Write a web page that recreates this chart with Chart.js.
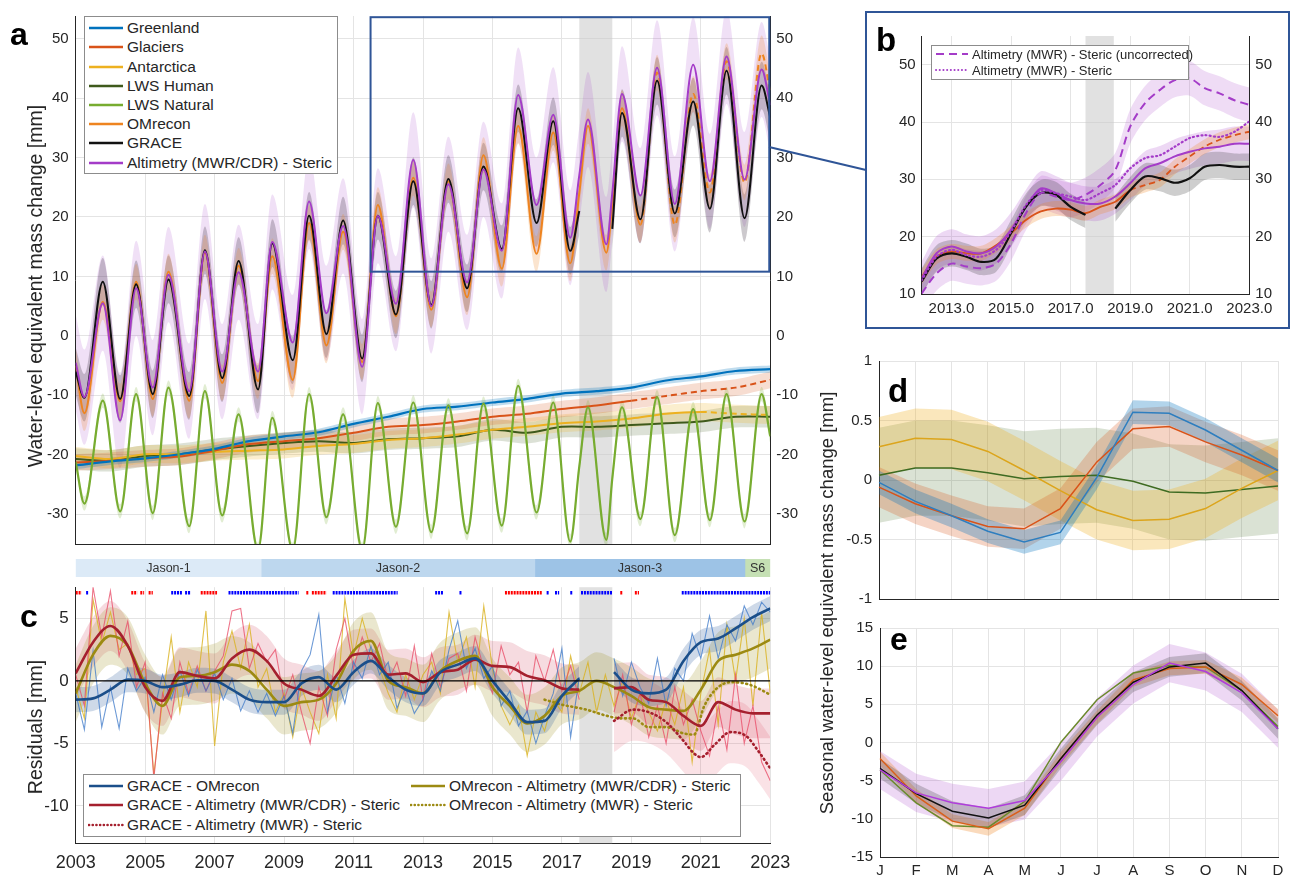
<!DOCTYPE html>
<html>
<head>
<meta charset="utf-8">
<title>Water-level equivalent mass change</title>
<script src="https://cdn.jsdelivr.net/npm/chart.js@4.4.1/dist/chart.umd.min.js"></script>
<style>
  body { margin: 0; background: #fff; font-family: "Liberation Sans", Arial, sans-serif; color: #262626; }
  #page { position: relative; width: 1290px; height: 876px; overflow: hidden; }
  canvas, .abs { position: absolute; }
  .letter { position: absolute; font-weight: bold; line-height: 1; color: #000; }
  .ytitle { position: absolute; white-space: nowrap; text-align: center; transform: rotate(-90deg); line-height: 1; height: 22px; }
  .legend { position: absolute; background: #fff; border: 1px solid #8c8c8c; box-sizing: border-box; }
  .lrow { position: absolute; display: flex; align-items: center; white-space: nowrap; color: #262626; }
</style>
</head>
<body>
<div id="page">
  <canvas id="chartA" width="820" height="560" style="left:0;top:0"></canvas>
  <canvas id="missions" width="820" height="20" style="left:0;top:557px"></canvas>
  <canvas id="chartC" width="820" height="306" style="left:0;top:570px"></canvas>
  <div class="abs" style="box-sizing:border-box;left:865px;top:11px;width:425px;height:318px;border:2px solid #2f5597"></div>
  <canvas id="chartB" width="424" height="326" style="left:864px;top:2px"></canvas>
  <canvas id="chartD" width="490" height="270" style="left:800px;top:345px"></canvas>
  <canvas id="chartE" width="490" height="264" style="left:800px;top:612px"></canvas>
  <svg class="abs" width="1290" height="876" style="left:0;top:0;pointer-events:none">
    <line x1="769" y1="147" x2="866" y2="170" stroke="#2f5597" stroke-width="2"/>
  </svg>

  <div id="legendA" class="legend" style="left:84px;top:16px;width:254px;height:158px"></div>
  <div id="legendB" class="legend" style="left:931px;top:45px;width:258px;height:35px"></div>
  <div id="legendC" class="legend" style="left:83px;top:774px;width:658px;height:63px"></div>

  <div class="letter" style="left:10px;top:18px;font-size:32px">a</div>
  <div class="letter" style="left:876px;top:23px;font-size:33px">b</div>
  <div class="letter" style="left:20px;top:600px;font-size:32px">c</div>
  <div class="letter" style="left:888px;top:374px;font-size:33px">d</div>
  <div class="letter" style="left:890px;top:623px;font-size:32px">e</div>

  <div class="ytitle" style="left:-173px;top:275px;width:420px;font-size:19.5px">Water-level equivalent mass change [mm]</div>
  <div class="ytitle" style="left:-173px;top:716px;width:420px;font-size:19.5px">Residuals [mm]</div>
  <div class="ytitle" style="left:569px;top:592px;width:520px;font-size:18.5px">Seasonal water-level equivalent mass change [mm]</div>
</div>

<script>
// ---------------- data: panel a (seasonal series, peak / trough times) ----------------
const aTime = [2003.0, 2003.25, 2003.78, 2004.28, 2004.74, 2005.22, 2005.67, 2006.27, 2006.72, 2007.22,
  2007.69, 2008.25, 2008.66, 2009.25, 2009.72, 2010.22, 2010.7, 2011.25, 2011.7, 2012.22,
  2012.72, 2013.24, 2013.73, 2014.27, 2014.74, 2015.27, 2015.74, 2016.27, 2016.75, 2017.24,
  2017.5, 2017.75, 2018.28, 2018.45, 2018.73, 2019.26, 2019.74, 2020.25, 2020.78, 2021.26,
  2021.74, 2022.26, 2022.75, 2023.0]
const aGrace = [-6, -10.4, 9.1, -10.6, 8.7, -9.8, 9.5, -10.1, 14.4, -7.1,
  12.6, -9, 15.6, -4.1, 20.2, 0.3, 19.4, -3.8, 20.2, 3.6,
  26, 5.2, 26.4, 8, 28.5, 14.6, 38.3, 19, 36.1, 14.3,
  21, null, null, 18, 37.5, 19.6, 42.9, 20.6, 39.4, 21.4,
  44.6, 19.8, 42.1, 36.7]
const aOMrecon = [-5, -13, 5.7, -11, 9.1, -10.6, 10.8, -10.9, 14, -7.9,
  11.8, -7.6, 13.4, -7.4, 19, -1.6, 17.5, -4.4, 22, 3.3,
  26.6, 4.4, 26, 6.5, 30.4, 11.3, 35.3, 13.8, 34.2, 12.2,
  24, 35.3, 14, 22, 38.3, 18.7, 44.3, 18.7, 40.7, 24.1,
  46.2, 25.8, 47.5, 41]
const aAltimetry = [-4.5, -10.3, 5.5, -14.2, 8, -8.7, 10.3, -9.3, 14.2, -6,
  10.7, -6, 15.8, -1.1, 22.6, 3.8, 18.5, -5.2, 20.2, 5.4,
  29.6, 5, 25.5, 9, 28, 14.3, 40.5, 22, 37.2, 16.5,
  27, 36.4, 15.4, 24, 40.7, 23.6, 45.1, 22.2, 45.6, 26,
  47, 26.3, 44.8, 38.8]
const aLwsNatural = [-21.2, -28.2, -10.9, -29.5, -9.8, -29.8, -8.7, -32, -9.3, -30.2,
  -13.2, -36, -13.8, -36, -9.8, -30.5, -13.2, -36, -11.3, -32.1,
  -11.2, -33, -11.7, -33.2, -11.4, -31.9, -8.4, -29.7, -11.2, -34.6,
  -22, -12, -34.3, -24, -12, -30.8, -10.3, -33.5, -12.3, -31,
  -9.8, -31.2, -9.8, -16.9]

// ---------------- data: panel a (trend contributions, yearly) ----------------
const trendYears = [2003, 2004, 2005, 2006, 2007, 2008, 2009, 2010, 2011, 2012, 2013,
  2014, 2015, 2016, 2017, 2018, 2019, 2020, 2021, 2022, 2023]
const aGreenland = [-21.8, -21.1, -20.6, -19.9, -19, -17.7, -16.9, -16.2, -14.8, -13.6, -12.3,
  -11.9, -11.2, -10.6, -9.7, -9.3, -8.7, -7.5, -6.8, -5.9, -5.6]
const aGlaciers = [-21.3, -21, -20.6, -20.3, -19.3, -18.2, -17.7, -17.2, -16.3, -15.3, -15,
  -14.4, -13.6, -13.1, -12.3, -11.7, -10.9, -10.1, -9.3, -8.7, -7.4]
const aAntarctica = [-20.2, -20.7, -19.9, -19.9, -19.5, -19.3, -19.1, -18.5, -18.2, -17.5, -17.2,
  -16.6, -15.8, -15.3, -14.7, -14.4, -13.9, -13.1, -12.8, -13.1, -13.3]
const aLwsHuman = [-20.7, -21, -20.2, -19.9, -19.1, -18.5, -18, -17.7, -18, -17.4, -17.2,
  -16.9, -15.8, -16.3, -15.3, -15.3, -15, -14.7, -14.4, -13.6, -13.6]

const aSigma = { grace: 4, om: 3, alt: 8, greenland: 0.6, glaciers: 1.4, antarctica: 1.5, lwsHuman: 1.8, lwsNatural: 1.2 }

// GRACE / GRACE-FO gap and zoom window of panel b
const gapStart = 2017.5, gapEnd = 2018.45
const zoomBox = { x0: 2011.49, x1: 2022.97, y0: 10.8, y1: 53.6 }
const omDashFrom = 2019, glaciersDashFrom = 2018.5, antarcticaDashFrom = 2021

// ---------------- data: missions ----------------
const missionNames = ['Jason-1', 'Jason-2', 'Jason-3', 'S6']
const missionStart = [2003, 2008.34, 2016.22, 2022.27]
const missionEnd = [2008.34, 2016.22, 2022.27, 2023]

// ---------------- data: panel c (residuals) ----------------
const cQuarter = []
for (let i = 0; i <= 80; i++) cQuarter.push(2003 + i / 4)
const cHalf = []
for (let i = 0; i <= 40; i++) cHalf.push(2003 + i / 2)

const cThinGraceOm = [-1.0, -3.9, 2.4, -3.7, -0.5, -3.8, 1.0, -0.8, 0.3, -2.5, 0.5, -1.5,
  0.8, -1.2, 0.9, -0.8, 0.6, -1.5, 0.2, -2.4, -0.8, -2.5, -1.0, -2.8,
  -1.2, -4.2, 0.8, 2.1, 5.3, -2.5, 0.5, -1.8, 1.5, 0.2, 2.8, 0.5,
  1.5, -2.2, -0.5, -2.6, -1.5, 0.8, -0.8, 2.5, 4.8, 1.0, 2.6, 0.2,
  1.2, -2.0, -0.8, -3.6, -2.4, -5.0, -2.8, -1.0, 2.6, -4.5, 0.3, null,
  null, null, 1.8, -1.2, 1.5, -0.5, -1.8, 1.8, -2.0, 1.0, 0.0, 3.8,
  1.8, 5.2, 1.8, 4.5, 3.2, 6.0, 4.5, 6.3, 5.5]
const cThinGraceAlt = [0.5, -2, 7.5, 3.5, 7.2, 2.0, 4.8, -0.5, 1.5, -7.8, -1.0, -3.0,
  1.5, -1.0, 1.2, -0.8, 0.8, 2.0, 5.6, 5.8, 1.0, 3.0, 1.5, 2.5,
  -1.5, 0.5, -2.5, -5.0, -0.5, -2.8, 2.5, 5.0, 1.0, 3.5, 1.5, 3.0,
  0.0, 1.5, -1.2, 2.8, -1.5, 2.2, -0.5, 1.8, 2.2, -0.8, 3.5, 1.0,
  -1.0, 2.8, 0.5, 1.5, -2.5, 2.0, 0.0, 2.5, -0.8, 1.2, -1.5, null,
  null, null, -2.5, 0.5, -3.5, -1.0, -4.5, -2.0, -5.0, -0.5, -3.5, -1.5,
  -4.0, -6.0, -2.0, -5.5, 0.5, -5.0, -2.0, -6.5, -8.0]
const cThinOmAlt = [-0.5, -3.0, 6.5, 3.0, 5.5, 2.5, 3.0, 0.5, 1.0, -7.5, -1.5, 3.5,
  -2.5, 1.5, -0.5, 5.6, -5.2, 1.5, 4.0, 1.0, 4.5, -0.5, 1.0, -2.5,
  -1.0, -4.5, -0.5, -2.5, -4.2, 0.5, -3.0, 6.6, 2.0, 5.0, 2.5, 1.0,
  -1.0, -2.5, 0.5, -1.5, 0.5, 1.5, -1.0, 5.5, 1.5, 3.5, -0.5, 6.0,
  1.0, -2.0, -3.5, -2.0, -6.0, -2.5, -4.0, -1.5, -2.5, 2.0, -1.0, 1.5,
  -2.5, 0.5, -2.0, 0.0, -3.0, -1.0, -2.5, -4.0, -1.5, -3.5, -0.5, -6.5,
  -1.0, 2.5, -3.5, 4.5, 0.0, 5.0, -2.0, 5.5, -1.0]

const cGraceOm = [-1.5, -1.4, -0.7, 0.1, 0, -0.5, -0.3, 0.05, 0, -0.7,
  -1.5, -1.7, -1.7, -0.2, 0.3, -0.7, 0.7, 1.6, 0.3, -0.7,
  -1, 0.7, 1.3, 1.8, 0, -1.7, -3.3, -3.2, -1.2, 0.2,
  null, 0.7, -0.7, -1, -0.7, 1.6, 3.1, 3.4, 4.2, 5.1, 5.8]
const cGraceAlt = [0.6, 3.1, 4.4, 2.8, -0.5, -1.6, 0.7, 0.4, 0.2, 1.8,
  2.5, 1.6, -0.2, -0.7, -1.2, 0.4, 2.1, 2.2, 0.5, 0.6,
  -0.1, 0.7, 0.9, 1.7, 1.2, 1.1, 0.4, 0.05, -0.6, -0.7,
  null, -0.6, -0.5, -1.5, -1.7, -2.8, -3.6, -1.7, -2.3, -2.6, -2.6]
const cOmAlt = [-1, 2.1, 3.6, 2.8, -0.2, -2, 0.3, 0.4, 0.7, 1.3,
  0.8, -0.7, -2, -1.7, -1.5, -0.2, 2.4, 3.2, 0, -0.5,
  -1, 0.8, 1.6, 2, -0.5, -2, -3.4, -2.8, -1.2, -0.8,
  0, -0.5, -1.2, -2.1, -2.3, -2.4, -0.7, 1.6, 2.1, 2.6, 3.3]
const cGraceAltMwrTime = [2018.5, 2019.05, 2019.5, 2020, 2020.5, 2020.8, 2021, 2021.4, 2021.85, 2022.3, 2022.65, 2023]
const cGraceAltMwr = [-3.2, -2.3, -2.5, -3.3, -4.8, -5.8, -6.1, -5.1, -4.1, -4.4, -5.6, -7]
const cOmAltMwrTime = [2016.5, 2017, 2017.7, 2018.3, 2018.7, 2019.05, 2019.5, 2020, 2020.5, 2020.8, 2021.1, 2021.5, 2021.9, 2022.4, 2023]
const cOmAltMwr = [-1.5, -1.9, -2.3, -2.8, -3.0, -3.0, -3.7, -3.7, -4.2, -4.3, -2.0, -0.5, -0.1, -0.3, -1.1]
const cSigma = { graceOm: 1.0, graceAlt: 2.0, omAlt: 2.3, graceAltMwr: 2.5 }

// months flagged above panel c (start, end of each run)
const redRuns = [[2003.0, 2003.17], [2004.6, 2004.77], [2004.86, 2004.97], [2005.1, 2005.22], [2006.6, 2007.07],
  [2009.64, 2009.7], [2009.8, 2010.22], [2015.36, 2016.42], [2018.68, 2018.74], [2019.1, 2019.22]]
const blueRuns = [[2003.3, 2003.36], [2005.75, 2006.07], [2006.15, 2006.32], [2007.4, 2009.42], [2010.4, 2012.27],
  [2013.35, 2013.6], [2014.05, 2014.11], [2016.56, 2016.62], [2016.8, 2016.92], [2017.24, 2017.3],
  [2017.55, 2018.45], [2020.45, 2023.0]]
const flagLevel = 7.05

// ---------------- data: panel b (de-seasoned, half-yearly) ----------------
const bHalf = []
for (let i = 0; i <= 22; i++) bHalf.push(2012 + i / 2)
const bOMrecon = [13, 16.5, 17.4, 17.1, 17.1, 18.5, 20.6, 22.9, 24.4, 24.9, 24.7, 24.1,
  25.2, 26.1, 28.1, 29, 29.9, 32.2, 34, 35.7, 36.9, 37.7, 38.3]
const bGrace = [12.2, 16.2, 17.1, 16.5, 15.6, 16.2, 20.6, 25.2, 27.6, 27.3, 25.2, 23.8,
  null, 24.9, 28.1, 30.5, 30.2, 29.4, 30.2, 32.2, 32.5, 32.2, 32.2]
const bAltimetry = [12.7, 17.1, 18.3, 17.4, 17.1, 18.3, 21.2, 25.2, 28.4, 27.6, 26.4, 25.8,
  25.8, 27, 29.3, 31.9, 32.8, 34, 34.8, 35.4, 35.7, 36.2, 36.2]
const bAltMwrUncorr = [10.1, 13.6, 15.3, 14.8, 14.5, 15.3, 18.8, 24.1, 27.6, 27, 26.4, 27.3,
  29, 31.6, 39.2, 43.3, 45.6, 47.3, 47.6, 45.9, 45, 43.8, 43]
const bAltMwr = [12.4, 16.5, 17.7, 16.8, 16.5, 17.7, 20.9, 25.5, 28.1, 27.6, 27, 26.4,
  27.6, 29, 31.9, 33.7, 34.2, 35.7, 37.2, 37.7, 37.4, 38.3, 40.1]
const bSigma = { uncorr: 3, alt: 3, grace: 2.3, om: 1.3 }

// ---------------- data: panels d, e (mean seasonal cycle) ----------------
const months = ['J', 'F', 'M', 'A', 'M', 'J', 'J', 'A', 'S', 'O', 'N', 'D']
const dGreenland = [-0.02, -0.18, -0.30, -0.43, -0.52, -0.44, 0.02, 0.57, 0.56, 0.42, 0.25, 0.08]
const dGlaciers = [-0.06, -0.2, -0.3, -0.39, -0.41, -0.24, 0.15, 0.43, 0.45, 0.32, 0.21, 0.08]
const dAntarctica = [0.28, 0.35, 0.34, 0.24, 0.08, -0.09, -0.25, -0.34, -0.33, -0.24, -0.07, 0.08]
const dLwsHuman = [0.04, 0.1, 0.1, 0.06, 0.01, 0.03, 0.04, -0.01, -0.1, -0.11, -0.08, -0.05]
const eGrace = [-3.4, -6.7, -9, -9.9, -8.2, -2.1, 3.6, 7.9, 9.9, 10.4, 6.8, 1.8]
const eOMrecon = [-2.1, -7, -10.3, -11.3, -8.6, -2.1, 3.3, 8.2, 9.7, 9.9, 7.6, 3.5]
const eAltimetry = [-3.6, -6.6, -7.9, -8.6, -7.6, -2.5, 3.3, 7.6, 10.4, 9.3, 6.5, 1.8]
const eSumContrib = [-3.6, -7.9, -10.9, -11.1, -7.7, 0.04, 5.6, 9.1, 10.1, 9.9, 6.8, 2.1]

// tick positions
const yearTicks = [2003, 2005, 2007, 2009, 2011, 2013, 2015, 2017, 2019, 2021, 2023]
const bYearTicks = [2013, 2015, 2017, 2019, 2021, 2023]
const aYTicks = [-30, -20, -10, 0, 10, 20, 30, 40, 50]
const bYTicks = [10, 20, 30, 40, 50]
const cYTicks = [-10, -5, 0, 5]
const dYTicks = [-1, -0.5, 0, 0.5, 1]
const eYTicks = [-15, -10, -5, 0, 5, 10, 15]

// ---------------- styles ----------------
const C = {
  greenland: '#0072BD', glaciers: '#D95319', antarctica: '#EDB120', lwsHuman: '#3F5A1C', lwsNatural: '#77AC30',
  om: '#EE8420', grace: '#111111', alt: '#A43CC8',
  resBlue: '#1B4F8A', resRed: '#A5202E', resOlive: '#9C8A12'
}
const GRID = '#e4e4e4', AXIS = '#262626'

Chart.defaults.font.family = '"Liberation Sans", Arial, sans-serif'
Chart.defaults.color = AXIS
Chart.defaults.animation = false
Chart.defaults.plugins.legend.display = false
Chart.defaults.plugins.tooltip.enabled = false
Chart.defaults.elements.point.radius = 0

// ---------------- helpers ----------------
const xy = (xs, ys, d) => xs.map((x, i) => ({ x: x, y: ys[i] == null ? null : ys[i] + (d || 0) }))
const setTicks = list => axis => { axis.ticks = list.map(v => ({ value: v })) }
const dashAfter = (t, dash) => ({ borderDash: c => (c.p0.parsed.x >= t ? dash : undefined) })
const mono = { cubicInterpolationMode: 'monotone' }

function lineDs(xs, ys, color, width, order, extra) {
  return Object.assign({ data: xy(xs, ys), borderColor: color, borderWidth: width, order: order, fill: false }, extra || {})
}
function bandDs(xs, ys, sigma, color, order, extra) {
  return [
    Object.assign({ data: xy(xs, ys, sigma), borderWidth: 0, backgroundColor: color, fill: '+1', order: order }, extra || {}),
    Object.assign({ data: xy(xs, ys, -sigma), borderWidth: 0, fill: false, order: order }, extra || {})
  ]
}
function catBand(ys, sigma, color, order) {
  return [
    { data: ys.map(v => v + sigma), borderWidth: 0, backgroundColor: color, fill: '+1', order: order },
    { data: ys.map(v => v - sigma), borderWidth: 0, fill: false, order: order }
  ]
}
function linAxis(min, max, ticks, extra) {
  return Object.assign({
    type: 'linear', min: min, max: max, afterBuildTicks: setTicks(ticks),
    grid: { color: GRID, drawTicks: false }, border: { color: AXIS },
    ticks: { callback: v => String(v) }
  }, extra || {})
}

const gapShade = {
  id: 'gapShade',
  beforeDatasetsDraw(chart) {
    const { ctx, chartArea: a, scales: { x } } = chart
    const x0 = x.getPixelForValue(gapStart), x1 = x.getPixelForValue(gapEnd)
    ctx.save()
    ctx.fillStyle = 'rgba(200,200,200,0.55)'
    ctx.fillRect(x0, a.top, x1 - x0, a.bottom - a.top)
    ctx.restore()
  }
}
const zoomFrame = {
  id: 'zoomFrame',
  afterDatasetsDraw(chart) {
    const { ctx, scales: { x, y } } = chart
    const l = x.getPixelForValue(zoomBox.x0), r = x.getPixelForValue(zoomBox.x1)
    const t = y.getPixelForValue(zoomBox.y1), b = y.getPixelForValue(zoomBox.y0)
    ctx.save()
    ctx.strokeStyle = '#2f5597'
    ctx.lineWidth = 2
    ctx.strokeRect(l, t, r - l, b - t)
    ctx.restore()
  }
}
const missionLabels = {
  id: 'missionLabels',
  afterDatasetsDraw(chart) {
    const ctx = chart.ctx
    ctx.save()
    ctx.font = '12.5px "Liberation Sans", Arial, sans-serif'
    ctx.fillStyle = '#333'
    ctx.textAlign = 'center'
    ctx.textBaseline = 'middle'
    chart.data.datasets.forEach((ds, i) => {
      const el = chart.getDatasetMeta(i).data[0]
      ctx.fillText(ds.label, (el.x + el.base) / 2, el.y + 1)
    })
    ctx.restore()
  }
}

// ---------------- panel a ----------------
new Chart(document.getElementById('chartA'), {
  type: 'line',
  data: {
    datasets: [
      lineDs(aTime, aAltimetry, C.alt, 2, 1, mono),
      lineDs(aTime, aGrace, C.grace, 2, 2, mono),
      lineDs(aTime, aOMrecon, C.om, 2, 3, Object.assign({ segment: dashAfter(omDashFrom, [6, 4]) }, mono)),
      lineDs(aTime, aLwsNatural, C.lwsNatural, 2.2, 4, mono),
      lineDs(trendYears, aGreenland, C.greenland, 2.2, 5, { tension: 0.3 }),
      lineDs(trendYears, aGlaciers, C.glaciers, 2, 6, { tension: 0.3, segment: dashAfter(glaciersDashFrom, [6, 4]) }),
      lineDs(trendYears, aAntarctica, C.antarctica, 2, 7, { tension: 0.3, segment: dashAfter(antarcticaDashFrom, [6, 4]) }),
      lineDs(trendYears, aLwsHuman, C.lwsHuman, 2, 8, { tension: 0.3 }),
      ...bandDs(aTime, aLwsNatural, aSigma.lwsNatural, 'rgba(119,172,48,0.22)', 20, mono),
      ...bandDs(trendYears, aGreenland, aSigma.greenland, 'rgba(0,114,189,0.25)', 21, { tension: 0.3 }),
      ...bandDs(trendYears, aGlaciers, aSigma.glaciers, 'rgba(217,83,25,0.2)', 22, { tension: 0.3 }),
      ...bandDs(trendYears, aAntarctica, aSigma.antarctica, 'rgba(237,177,32,0.22)', 23, { tension: 0.3 }),
      ...bandDs(trendYears, aLwsHuman, aSigma.lwsHuman, 'rgba(63,90,28,0.18)', 24, { tension: 0.3 }),
      ...bandDs(aTime, aOMrecon, aSigma.om, 'rgba(238,132,32,0.22)', 25, mono),
      ...bandDs(aTime, aGrace, aSigma.grace, 'rgba(50,40,55,0.25)', 26, mono),
      ...bandDs(aTime, aAltimetry, aSigma.alt, 'rgba(164,60,200,0.16)', 27, mono)
    ]
  },
  options: {
    responsive: false,
    layout: { padding: { top: 14, bottom: 2.5, left: 0, right: 0 } },
    scales: {
      x: linAxis(2003, 2023, yearTicks, { ticks: { display: false }, afterFit: ax => { ax.height = 0 } }),
      y: linAxis(-35, 53.8, aYTicks, {
        ticks: { font: { size: 15 }, padding: 7, callback: v => String(v) },
        afterFit: ax => { ax.width = 75.7 }
      }),
      yr: linAxis(-35, 53.8, aYTicks, {
        position: 'right',
        grid: { display: false, drawTicks: false },
        ticks: { font: { size: 15 }, padding: 6, callback: v => String(v) },
        afterFit: ax => { ax.width = 49.7 }
      })
    }
  },
  plugins: [gapShade, zoomFrame]
})

// ---------------- mission bar ----------------
const missionColors = ['#dceaf7', '#bdd7ee', '#9dc3e6', '#c5e0b4']
new Chart(document.getElementById('missions'), {
  type: 'bar',
  data: {
    labels: [''],
    datasets: missionNames.map((name, i) => ({
      label: name,
      data: [[missionStart[i], missionEnd[i]]],
      backgroundColor: missionColors[i],
      borderWidth: 0,
      grouped: false,
      barPercentage: 1,
      categoryPercentage: 1
    }))
  },
  options: {
    responsive: false,
    indexAxis: 'y',
    layout: { padding: { left: 75.7, right: 49.7, top: 2, bottom: 0 } },
    scales: {
      x: { type: 'linear', min: 2003, max: 2023, display: false },
      y: { display: false }
    }
  },
  plugins: [missionLabels]
})

// ---------------- panel c ----------------
const runPoints = runs => runs.flatMap(r => [{ x: r[0], y: flagLevel }, { x: r[1], y: flagLevel }, { x: r[1], y: null }])
const dotted = { borderDash: [1, 3.6], borderCapStyle: 'round' }
new Chart(document.getElementById('chartC'), {
  type: 'line',
  data: {
    datasets: [
      { data: runPoints(redRuns), borderColor: '#ff0000', borderWidth: 3.5, borderDash: [2, 0.9], order: 0, fill: false },
      { data: runPoints(blueRuns), borderColor: '#0000ff', borderWidth: 3.5, borderDash: [2, 0.9], order: 0, fill: false },
      lineDs([2003, 2023], [0, 0], '#000', 1.2, 1),
      lineDs(cHalf, cGraceOm, C.resBlue, 2.6, 2, mono),
      lineDs(cHalf, cGraceAlt, C.resRed, 2.6, 3, mono),
      lineDs(cHalf, cOmAlt, C.resOlive, 2.6, 4, mono),
      lineDs(cGraceAltMwrTime, cGraceAltMwr, C.resRed, 2.6, 5, Object.assign({}, dotted, mono)),
      lineDs(cOmAltMwrTime, cOmAltMwr, C.resOlive, 2.6, 6, Object.assign({}, dotted, mono)),
      lineDs(cQuarter, cThinGraceOm, 'rgba(60,120,200,0.75)', 1.1, 10),
      lineDs(cQuarter, cThinGraceAlt, 'rgba(232,72,100,0.75)', 1.1, 11),
      lineDs(cQuarter, cThinOmAlt, 'rgba(218,178,30,0.8)', 1.1, 12),
      ...bandDs(cHalf, cGraceOm, cSigma.graceOm, 'rgba(30,80,150,0.22)', 20, mono),
      ...bandDs(cHalf, cOmAlt, cSigma.omAlt, 'rgba(160,145,30,0.22)', 21, mono),
      ...bandDs(cHalf, cGraceAlt, cSigma.graceAlt, 'rgba(200,40,70,0.17)', 22, mono),
      ...bandDs(cGraceAltMwrTime, cGraceAltMwr, cSigma.graceAltMwr, 'rgba(220,60,90,0.15)', 23, mono)
    ]
  },
  options: {
    responsive: false,
    layout: { padding: { top: 6.7, bottom: 0, left: 0, right: 49.7 } },
    scales: {
      x: linAxis(2003, 2023, yearTicks, {
        ticks: { font: { size: 18 }, padding: 9, callback: v => String(v) },
        afterFit: ax => { ax.height = 32.7 }
      }),
      y: linAxis(-13, 7.5, cYTicks, {
        ticks: { font: { size: 17 }, padding: 7, callback: v => String(v) },
        afterFit: ax => { ax.width = 75.7 }
      })
    }
  },
  plugins: [gapShade]
})

// ---------------- panel b ----------------
new Chart(document.getElementById('chartB'), {
  type: 'line',
  data: {
    datasets: [
      lineDs(bHalf, bAltMwrUncorr, C.alt, 2, 1, { borderDash: [8, 5], tension: 0.3 }),
      lineDs(bHalf, bAltMwr, C.alt, 2.2, 2, Object.assign({ tension: 0.3 }, dotted, { borderDash: [1, 3.2] })),
      lineDs(bHalf, bGrace, C.grace, 2.2, 3, { tension: 0.3 }),
      lineDs(bHalf, bAltimetry, C.alt, 2, 4, { tension: 0.3 }),
      lineDs(bHalf, bOMrecon, C.glaciers, 1.8, 5, { tension: 0.3, segment: dashAfter(omDashFrom, [6, 4]) }),
      ...bandDs(bHalf, bOMrecon, bSigma.om, 'rgba(238,132,32,0.25)', 20, { tension: 0.3 }),
      ...bandDs(bHalf, bGrace, bSigma.grace, 'rgba(60,60,60,0.25)', 21, { tension: 0.3 }),
      ...bandDs(bHalf, bAltimetry, bSigma.alt, 'rgba(164,60,200,0.2)', 22, { tension: 0.3 }),
      ...bandDs(bHalf, bAltMwrUncorr, bSigma.uncorr, 'rgba(164,60,200,0.18)', 23, { tension: 0.3 })
    ]
  },
  options: {
    responsive: false,
    layout: { padding: { top: 34, bottom: 0, left: 0, right: 0 } },
    scales: {
      x: linAxis(2012, 2023, bYearTicks, {
        ticks: { font: { size: 15 }, padding: 6, callback: v => v.toFixed(1) },
        afterFit: ax => { ax.height = 34 }
      }),
      y: linAxis(10, 55, bYTicks, {
        ticks: { font: { size: 15 }, padding: 6, callback: v => String(v) },
        afterFit: ax => { ax.width = 57.7 }
      }),
      yr: linAxis(10, 55, bYTicks, {
        position: 'right',
        grid: { display: false, drawTicks: false },
        ticks: { font: { size: 15 }, padding: 6, callback: v => String(v) },
        afterFit: ax => { ax.width = 38.7 }
      })
    }
  },
  plugins: [gapShade]
})

// ---------------- panels d, e ----------------
function seasonal(id, lines, bands, yMin, yMax, yTicks, pad, xHeight, showMonths) {
  return new Chart(document.getElementById(id), {
    type: 'line',
    data: {
      labels: months,
      datasets: lines.map((l, i) => ({ data: l[0], borderColor: l[1], borderWidth: 1.5, order: i + 1, fill: false }))
        .concat(bands.flatMap((b, i) => catBand(b[0], b[1], b[2], 20 + i)))
    },
    options: {
      responsive: false,
      layout: { padding: pad },
      scales: {
        x: {
          grid: { color: GRID, drawTicks: false }, border: { color: AXIS },
          ticks: { display: showMonths, font: { size: 15 }, padding: 5, maxRotation: 0, autoSkip: false },
          afterFit: ax => { ax.height = xHeight }
        },
        y: linAxis(yMin, yMax, yTicks, {
          ticks: { font: { size: 15 }, padding: 7, callback: v => String(v) },
          afterFit: ax => { ax.width = 79 }
        })
      }
    }
  })
}

seasonal('chartD',
  [[dGreenland, '#2e7ebf'], [dGlaciers, C.glaciers], [dAntarctica, '#dca51c'], [dLwsHuman, '#3e6b22']],
  [[dGreenland, 0.1, 'rgba(0,114,189,0.3)'], [dGlaciers, 0.17, 'rgba(217,83,25,0.25)'],
   [dAntarctica, 0.25, 'rgba(237,177,32,0.3)'], [dLwsHuman, 0.4, 'rgba(70,110,40,0.2)']],
  -1, 1, dYTicks, { top: 16, right: 12, left: 0, bottom: 0 }, 10, false)

seasonal('chartE',
  [[eAltimetry, '#b03cdc'], [eGrace, C.grace], [eOMrecon, '#d95f1a'], [eSumContrib, '#6b8a2c']],
  [[eGrace, 1.3, 'rgba(60,60,60,0.25)'], [eOMrecon, 0.9, 'rgba(238,132,32,0.3)'], [eAltimetry, 2.5, 'rgba(164,60,200,0.2)']],
  -15, 15, eYTicks, { top: 12, right: 12, left: 1, bottom: 0 }, 19, true)

// ---------------- legends ----------------
function buildLegend(id, items, o) {
  const box = document.getElementById(id)
  items.forEach(it => {
    const row = document.createElement('div')
    row.className = 'lrow'
    row.style.left = (it.col ? o.col2 : o.left) + 'px'
    row.style.top = (o.top + it.row * o.step) + 'px'
    row.style.height = o.step + 'px'
    row.style.fontSize = o.font + 'px'
    const dash = it.dash === 'dot' ? '0.1 3.6' : (it.dash === 'dash' ? '8 5' : '')
    const cap = it.dash === 'dot' ? 'round' : 'butt'
    row.innerHTML = '<svg width="' + o.len + '" height="6" style="margin-right:' + o.gap + 'px;flex:none">' +
      '<line x1="1" y1="3" x2="' + (o.len - 1) + '" y2="3" stroke="' + it.color + '" stroke-width="' + o.w +
      '" stroke-linecap="' + cap + '" stroke-dasharray="' + dash + '"/></svg>'
    const span = document.createElement('span')
    span.textContent = it.label
    row.appendChild(span)
    box.appendChild(row)
  })
}

buildLegend('legendA', [
  { label: 'Greenland', color: C.greenland, row: 0 },
  { label: 'Glaciers', color: C.glaciers, row: 1 },
  { label: 'Antarctica', color: C.antarctica, row: 2 },
  { label: 'LWS Human', color: C.lwsHuman, row: 3 },
  { label: 'LWS Natural', color: C.lwsNatural, row: 4 },
  { label: 'OMrecon', color: C.om, row: 5 },
  { label: 'GRACE', color: C.grace, row: 6 },
  { label: 'Altimetry (MWR/CDR) - Steric', color: C.alt, row: 7 }
], { left: 3, top: 1.7, step: 19.2, len: 36, gap: 3, w: 2.5, font: 15.5 })

buildLegend('legendB', [
  { label: 'Altimetry (MWR) - Steric (uncorrected)', color: C.alt, dash: 'dash', row: 0 },
  { label: 'Altimetry (MWR) - Steric', color: C.alt, dash: 'dot', row: 1 }
], { left: 3, top: 0, step: 16, len: 34, gap: 3, w: 2, font: 13 })

buildLegend('legendC', [
  { label: 'GRACE - OMrecon', color: C.resBlue, row: 0 },
  { label: 'GRACE - Altimetry (MWR/CDR) - Steric', color: C.resRed, row: 1 },
  { label: 'GRACE - Altimetry (MWR) - Steric', color: C.resRed, dash: 'dot', row: 2 },
  { label: 'OMrecon - Altimetry (MWR/CDR) - Steric', color: C.resOlive, row: 0, col: 1 },
  { label: 'OMrecon - Altimetry (MWR) - Steric', color: C.resOlive, dash: 'dot', row: 1, col: 1 }
], { left: 4, col2: 326, top: 1.4, step: 19.3, len: 36, gap: 3, w: 2.6, font: 15.5 })
</script>
</body>
</html>
